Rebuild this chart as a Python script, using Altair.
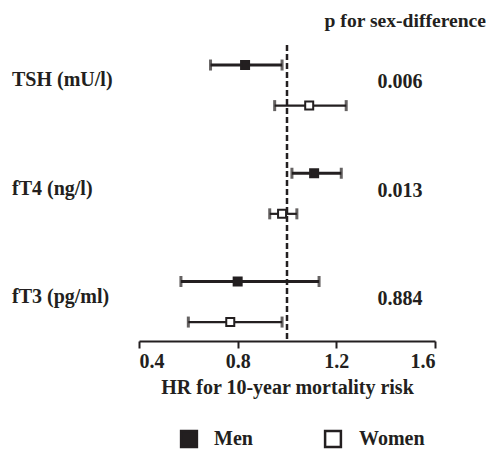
import altair as alt
import pandas as pd

markers = ["TSH (mU/l)", "fT4 (ng/l)", "fT3 (pg/ml)"]
men_hr = [0.83, 1.11, 0.80]
men_lo = [0.69, 1.02, 0.57]
men_hi = [0.98, 1.22, 1.13]
women_hr = [1.09, 0.98, 0.77]
women_lo = [0.95, 0.93, 0.60]
women_hi = [1.24, 1.04, 0.98]
p_values = ["0.006", "0.013", "0.884"]
sexes = ["Men", "Women"]

FONT = "Liberation Serif"
INK = "#231f20"

rows = []
for i, m in enumerate(markers):
    rows.append(dict(marker=m, sex="Men", row=i * 8, hr=men_hr[i], lo=men_lo[i], hi=men_hi[i]))
    rows.append(dict(marker=m, sex="Women", row=i * 8 + 3, hr=women_hr[i], lo=women_lo[i], hi=women_hi[i]))
df = pd.DataFrame(rows)

lab = pd.DataFrame(dict(marker=markers, p=p_values, row=[i * 8 + 1.5 for i in range(len(markers))]))
leg = pd.DataFrame(dict(sex=sexes))

xs = alt.Scale(domain=[0.4, 1.6], nice=False, zero=False)
ys = alt.Scale(domain=[-1.48, 20.4], reverse=True, nice=False, zero=False)

base = alt.Chart(df)

ref = alt.Chart(pd.DataFrame({"ref": [1.0]})).mark_rule(
    strokeDash=[6, 3], strokeWidth=2.5, color=INK
).encode(x=alt.X("ref:Q", scale=xs))

lines = base.transform_calculate(grp="datum.sex").mark_rule(color=INK).encode(
    x=alt.X("lo:Q", scale=xs,
            axis=alt.Axis(values=[0.4, 0.8, 1.2, 1.6], format=".1f",
                          title="HR for 10-year mortality risk")),
    x2="hi:Q",
    y=alt.Y("row:Q", scale=ys, axis=None),
    strokeWidth=alt.StrokeWidth("grp:N", scale=alt.Scale(domain=sexes, range=[3, 2.2]), legend=None),
)

caps_lo = base.mark_tick(orient="vertical", size=11, thickness=3, color=INK).encode(
    x=alt.X("lo:Q", scale=xs), y=alt.Y("row:Q", scale=ys))
caps_hi = base.mark_tick(orient="vertical", size=11, thickness=3, color=INK).encode(
    x=alt.X("hi:Q", scale=xs), y=alt.Y("row:Q", scale=ys))

pts = base.mark_square(stroke=INK, strokeWidth=2, opacity=1, size=64).encode(
    x=alt.X("hr:Q", scale=xs),
    y=alt.Y("row:Q", scale=ys),
    color=alt.Color("sex:N", scale=alt.Scale(domain=sexes, range=[INK, "white"]), legend=None),
)

# legend built from the sexes list
leg_men_sym = alt.Chart(leg).transform_filter("datum.sex == 'Men'").mark_square(
    size=250, stroke=INK, strokeWidth=2.5, fill=INK, opacity=1).encode(x=alt.value(50), y=alt.value(394))
leg_wom_sym = alt.Chart(leg).transform_filter("datum.sex == 'Women'").mark_square(
    size=250, stroke=INK, strokeWidth=2.5, fill="white", opacity=1).encode(x=alt.value(194), y=alt.value(394))
leg_men_txt = alt.Chart(leg).transform_filter("datum.sex == 'Men'").mark_text(
    align="left", baseline="middle", font=FONT, fontSize=20, fontWeight="bold", color=INK).encode(
    x=alt.value(75), y=alt.value(394), text="sex:N")
leg_wom_txt = alt.Chart(leg).transform_filter("datum.sex == 'Women'").mark_text(
    align="left", baseline="middle", font=FONT, fontSize=20, fontWeight="bold", color=INK).encode(
    x=alt.value(220), y=alt.value(394), text="sex:N")

names = alt.Chart(lab).mark_text(align="left", baseline="middle", dy=-5, font=FONT,
                                 fontSize=20, fontWeight="bold", color=INK).encode(
    x=alt.value(-127), y=alt.Y("row:Q", scale=ys), text="marker:N")

pv = alt.Chart(lab).mark_text(align="center", baseline="middle", dy=-3, font=FONT,
                              fontSize=20, fontWeight="bold", color=INK).encode(
    x=alt.value(261), y=alt.Y("row:Q", scale=ys), text="p:N")

chart = alt.layer(ref, lines, caps_lo, caps_hi, pts, names, pv,
                  leg_men_sym, leg_wom_sym, leg_men_txt, leg_wom_txt).properties(
    width=296, height=296,
    autosize=alt.AutoSizeParams(type="none"),
    padding={"left": 131, "top": 37, "right": 51, "bottom": 109},
    title=alt.TitleParams("p for sex-difference", anchor="end", frame="group", dx=51,
                          font=FONT, fontSize=19.6, fontWeight="bold", color=INK, offset=12),
).configure_view(stroke=None).configure_axis(
    grid=False, domainColor=INK, domainWidth=2, tickColor=INK, tickWidth=2, tickSize=7,
    labelFont=FONT, labelFontSize=20, labelFontWeight="bold", labelColor=INK, labelPadding=3,
    titleFont=FONT, titleFontSize=20, titleFontWeight="bold", titleColor=INK, titlePadding=6,
)

chart.save("out.html", embed_options={"renderer": "svg", "actions": False})
